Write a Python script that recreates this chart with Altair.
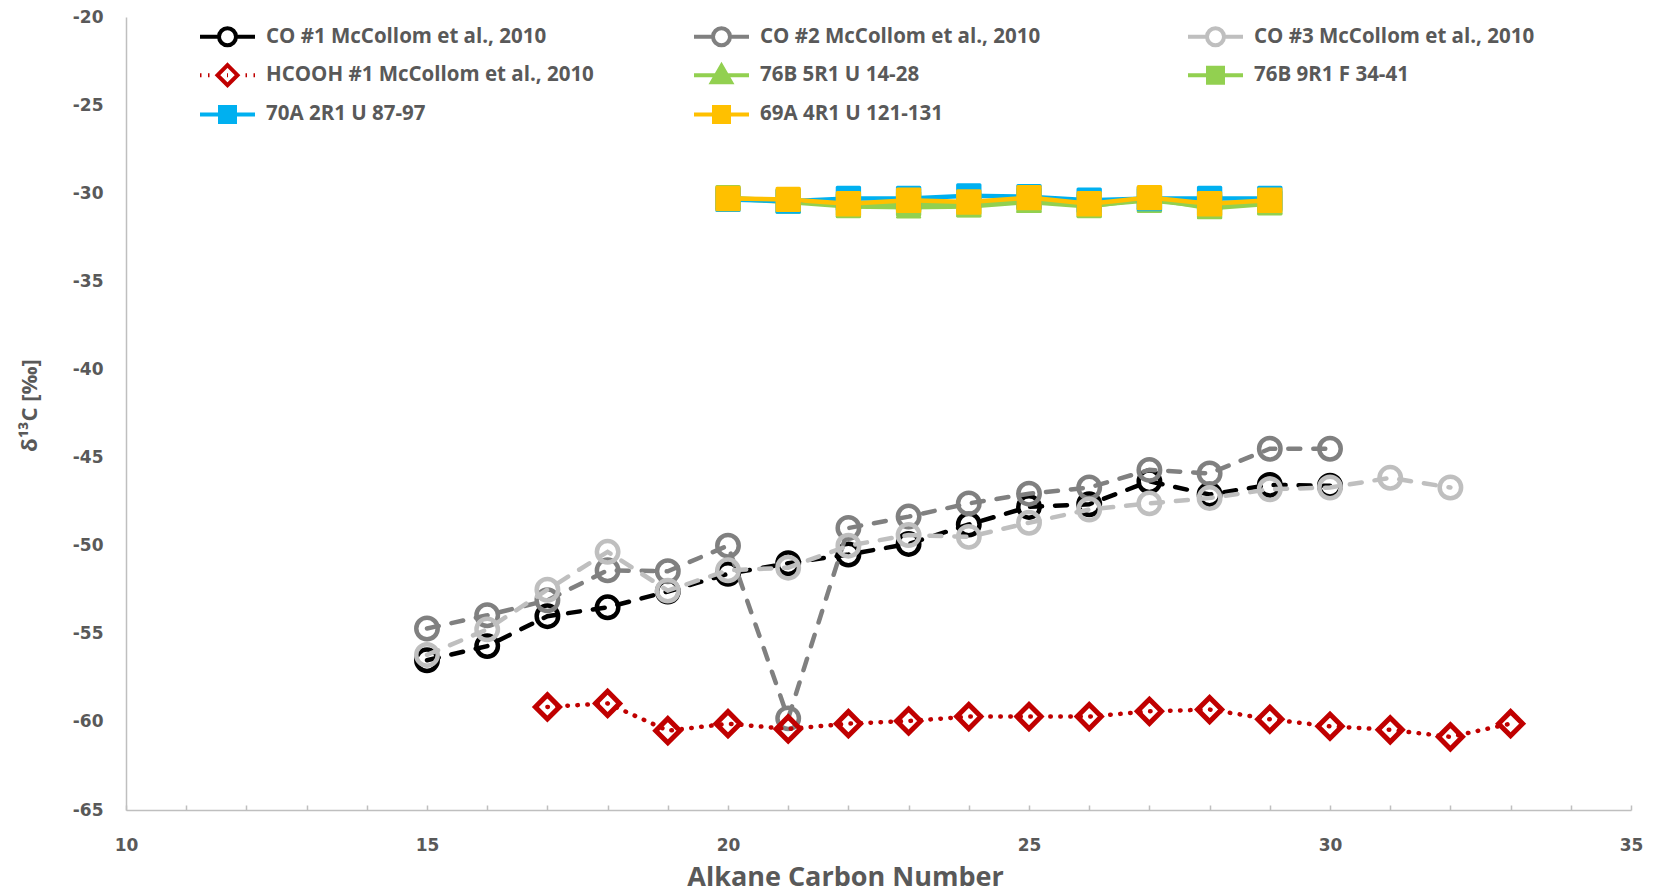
import altair as alt
import pandas as pd

# ---------------- data ----------------
names = [
    "CO #1 McCollom et al., 2010",
    "CO #2 McCollom et al., 2010",
    "CO #3 McCollom et al., 2010",
    "HCOOH #1 McCollom et al., 2010",
    "76B 5R1 U 14-28",
    "76B 9R1 F 34-41",
    "70A 2R1 U 87-97",
    "69A 4R1 U 121-131",
]

co1_x = list(range(15, 31))
co1_y = [-56.5, -55.7, -54.0, -53.5, -52.6, -51.6, -51.0, -50.5,
         -49.9, -48.8, -47.8, -47.65, -46.35, -47.1, -46.55, -46.6]

co2_x = list(range(15, 31))
co2_y = [-54.7, -53.95, -53.1, -51.4, -51.45, -50.0, -59.8, -49.0,
         -48.35, -47.6, -47.05, -46.7, -45.7, -45.9, -44.5, -44.5]

co3_x = list(range(15, 33))
co3_y = [-56.2, -54.75, -52.5, -50.35, -52.55, -51.4, -51.25, -50.0,
         -49.4, -49.5, -48.7, -47.95, -47.6, -47.3, -46.8, -46.7, -46.15, -46.7]

hcooh_x = list(range(17, 34))
hcooh_y = [-59.15, -58.95, -60.5, -60.1, -60.4, -60.1, -59.95, -59.7, -59.7,
           -59.7, -59.4, -59.3, -59.85, -60.25, -60.45, -60.85, -60.1]

core_x = list(range(20, 30))
b76_5r1_y = [-30.3, -30.5, -30.75, -30.8, -30.75, -30.5, -30.75, -30.3, -30.85, -30.6]
b76_9r1_y = [-30.25, -30.45, -30.7, -30.6, -30.65, -30.4, -30.7, -30.4, -30.75, -30.55]
a70_2r1_y = [-30.35, -30.45, -30.3, -30.3, -30.15, -30.2, -30.4, -30.3, -30.3, -30.3]
a69_4r1_y = [-30.3, -30.35, -30.6, -30.4, -30.5, -30.25, -30.6, -30.25, -30.6, -30.4]

x_ticks = [10, 15, 20, 25, 30, 35]
x_minor = list(range(10, 36))
y_ticks = [-65, -60, -55, -50, -45, -40, -35, -30, -25, -20]

# ---------------- styling ----------------
BLACK, DGRAY, LGRAY = "#000000", "#808080", "#bfbfbf"
RED, GREEN, BLUE, YELLOW = "#c00000", "#92d050", "#00b0f0", "#ffc000"
TXT = "#595959"

W, H = 1505, 793
xs = alt.Scale(domain=[10, 35], nice=False, zero=False)
ys = alt.Scale(domain=[-65, -20], nice=False, zero=False)

x_axis = alt.Axis(
    orient="bottom", values=x_ticks, ticks=False, grid=False,
    domainColor="#bfbfbf", domainWidth=1.5,
    labelFont="DejaVu Sans", labelFontWeight="bold", labelFontSize=17, labelColor=TXT,
    labelPadding=27, labelFlush=False, labelOverlap=False,
    title="Alkane Carbon Number", titleFont="Open Sans", titleFontSize=27,
    titleFontWeight="bold", titleColor=TXT, titleX=719, titleY=67,
    titleBaseline="middle", titleAlign="center",
)
x_tick_axis = alt.Axis(
    orient="top", offset=-H, values=x_minor, labels=False, domain=False, grid=False,
    ticks=True, tickSize=5, tickColor="#bfbfbf", tickWidth=1.5, title=None,
)
y_axis = alt.Axis(
    values=y_ticks, ticks=False, grid=False, domainColor="#bfbfbf", domainWidth=1.5,
    labelFont="DejaVu Sans", labelFontWeight="bold", labelFontSize=17, labelColor=TXT,
    labelPadding=23,
    labelExpr="datum.value < 0 ? '-' + abs(datum.value) : '' + datum.value",
    title="δ¹³C [‰]", titleFont="Open Sans", titleFontSize=22, titleFontWeight="bold",
    titleColor=TXT, titleX=-97, titleY=388, titleBaseline="middle", titleAlign="center",
    titleAngle=270,
)


def frame(xv, yv):
    return pd.DataFrame({"x": xv, "y": yv})


def series_layers(df, line_kw, point_kw, line_axis=None, point_axis=None):
    line = alt.Chart(df).mark_line(**line_kw).encode(
        x=alt.X("x:Q", scale=xs, axis=line_axis),
        y=alt.Y("y:Q", scale=ys, axis=y_axis),
    )
    pts = alt.Chart(df).mark_point(opacity=1, **point_kw).encode(
        x=alt.X("x:Q", scale=xs, axis=point_axis),
        y=alt.Y("y:Q", scale=ys, axis=y_axis),
    )
    return [line, pts]


CO_DASH = dict(strokeWidth=4.5, strokeDash=[12, 13], strokeCap="round")
CIRC = dict(shape="circle", size=460, filled=False, strokeWidth=4.5)

layers = []
layers += series_layers(
    frame(co1_x, co1_y),
    dict(color=BLACK, **CO_DASH),
    dict(stroke=BLACK, **CIRC),
    line_axis=x_axis, point_axis=x_tick_axis,
)
layers += series_layers(
    frame(co2_x, co2_y),
    dict(color=DGRAY, **CO_DASH),
    dict(stroke=DGRAY, **CIRC),
)
layers += series_layers(
    frame(co3_x, co3_y),
    dict(color=LGRAY, **CO_DASH),
    dict(stroke=LGRAY, **CIRC),
)
layers += series_layers(
    frame(hcooh_x, hcooh_y),
    dict(color=RED, strokeWidth=4.5, strokeDash=[0.5, 9.5], strokeCap="round"),
    dict(shape="diamond", size=580, filled=False, stroke=RED, strokeWidth=5),
)
layers += series_layers(
    frame(core_x, b76_5r1_y),
    dict(color=GREEN, strokeWidth=4.5),
    dict(shape="triangle-up", size=540, filled=True, fill=GREEN, stroke=GREEN,
         strokeWidth=2, strokeJoin="round"),
)
layers += series_layers(
    frame(core_x, b76_9r1_y),
    dict(color=GREEN, strokeWidth=4.5),
    dict(shape="square", size=500, filled=True, fill=GREEN, stroke=GREEN,
         strokeWidth=3, strokeJoin="round"),
)
layers += series_layers(
    frame(core_x, a70_2r1_y),
    dict(color=BLUE, strokeWidth=4.5),
    dict(shape="square", size=500, filled=True, fill=BLUE, stroke=BLUE,
         strokeWidth=3, strokeJoin="round"),
)
layers += series_layers(
    frame(core_x, a69_4r1_y),
    dict(color=YELLOW, strokeWidth=4.5),
    dict(shape="square", size=500, filled=True, fill=YELLOW, stroke=YELLOW,
         strokeWidth=3, strokeJoin="round"),
)

# ---------------- legend (line + marker symbols) ----------------
circ = "M-0.85,0A0.85,0.85,0,1,1,0.85,0A0.85,0.85,0,1,1,-0.85,0Z"
co_path = "M-2.75,0L-0.85,0M0.85,0L2.75,0" + circ
dot_path = ("M-2.75,0L-2.6,0M-1.95,0L-1.8,0M1.8,0L1.95,0M2.6,0L2.75,0M-0.05,0L0.05,0"
            "M0,-1L1,0L0,1L-1,0Z")
tri_path = "M-2.75,0L2.75,0M0,-0.95L0.95,0.7L-0.95,0.7Z"
sq_path = "M-2.75,0L2.75,0M-0.75,-0.75L0.75,-0.75L0.75,0.75L-0.75,0.75Z"

# legend fills its grid column by column: order entries so rows read like the reference
leg_order = [0, 3, 6, 1, 4, 7, 2, 5]
all_paths = [co_path, co_path, co_path, dot_path, tri_path, sq_path, sq_path, sq_path]
all_strokes = [BLACK, DGRAY, LGRAY, RED, GREEN, GREEN, BLUE, YELLOW]
all_fills = ["white", "white", "white", "white", GREEN, GREEN, BLUE, YELLOW]

leg_names = [names[i] for i in leg_order]
leg_paths = [all_paths[i] for i in leg_order]
leg_strokes = [all_strokes[i] for i in leg_order]
leg_fills = [all_fills[i] for i in leg_order]

leg_def = alt.Legend(
    title=None, orient="none", legendX=74.5, legendY=7, columns=3, gridAlign="all",
    columnPadding=91, rowPadding=3.2, padding=0,
    symbolSize=400, symbolStrokeWidth=4, symbolOffset=15, labelOffset=26.5,
    labelFont="Open Sans", labelFontSize=20.5, labelFontWeight="bold",
    labelColor=TXT, labelLimit=700, labelBaseline="middle",
)

leg_df = pd.DataFrame({"series": leg_names})
legend_layer = alt.Chart(leg_df).mark_point(filled=True, opacity=1, strokeWidth=4).encode(
    shape=alt.Shape("series:N", scale=alt.Scale(domain=leg_names, range=leg_paths), legend=leg_def),
    stroke=alt.Stroke("series:N", scale=alt.Scale(domain=leg_names, range=leg_strokes), legend=leg_def),
    fill=alt.Fill("series:N", scale=alt.Scale(domain=leg_names, range=leg_fills), legend=leg_def),
).transform_filter("false")

layers.append(legend_layer)

chart = alt.layer(*layers).resolve_axis(x="independent").properties(
    width=W, height=H,
    padding={"left": 126, "top": 17, "right": 1655 - 126 - W, "bottom": 892 - 17 - H},
    autosize=alt.AutoSizeParams(type="none"),
    background="white",
).configure_view(strokeWidth=0)

chart.save("out.html", embed_options={"renderer": "svg", "actions": False})
